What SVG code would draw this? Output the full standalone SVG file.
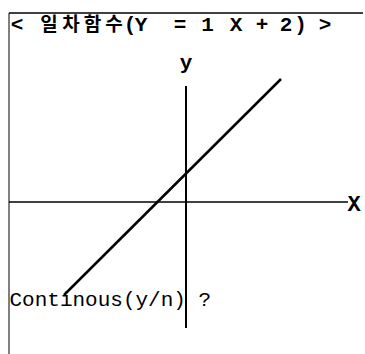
<svg xmlns="http://www.w3.org/2000/svg" width="365" height="354" viewBox="0 0 365 354">
<style>
.t{font-family:"Liberation Mono","Noto Sans CJK KR",monospace;fill:#000}
.b{font-weight:bold}
.ax{stroke:#000;fill:none}
</style>
<rect width="365" height="354" fill="#fff"/>
<g id="frame">
<line class="ax" x1="9" y1="13" x2="363" y2="13" stroke-width="1.5" stroke="#222"/>
<line class="ax" x1="9" y1="13" x2="9" y2="354" stroke-width="1" stroke="#333"/>
</g>
<g id="title">
<text class="t b" font-size="21" y="31" text-anchor="middle"><tspan x="17 33">&lt; </tspan><tspan font-size="19" x="49 71 92.5 114">일차함수</tspan><tspan x="130 141 160 180 194 207.5 222 236 249 262 274 286 300.5 313 325">(Y = 1 X + 2) &gt;</tspan></text>
</g>
<g id="connectors">
<line class="ax" x1="9" y1="202" x2="348" y2="202" stroke-width="1.5"/>
<line class="ax" x1="186" y1="86" x2="186" y2="328" stroke-width="2"/>
<line class="ax" x1="64" y1="295" x2="281" y2="79" stroke-width="2.5"/>
</g>
<g id="y-label"><text class="t b" font-size="21" x="186" y="69" text-anchor="middle">y</text></g>
<g id="x-label"><text class="t b" font-size="22" x="354" y="211" text-anchor="middle">X</text></g>
<g id="prompt"><text class="t" font-size="21" x="9.5" y="306">Continous(y/n) ?</text></g>
</svg>
